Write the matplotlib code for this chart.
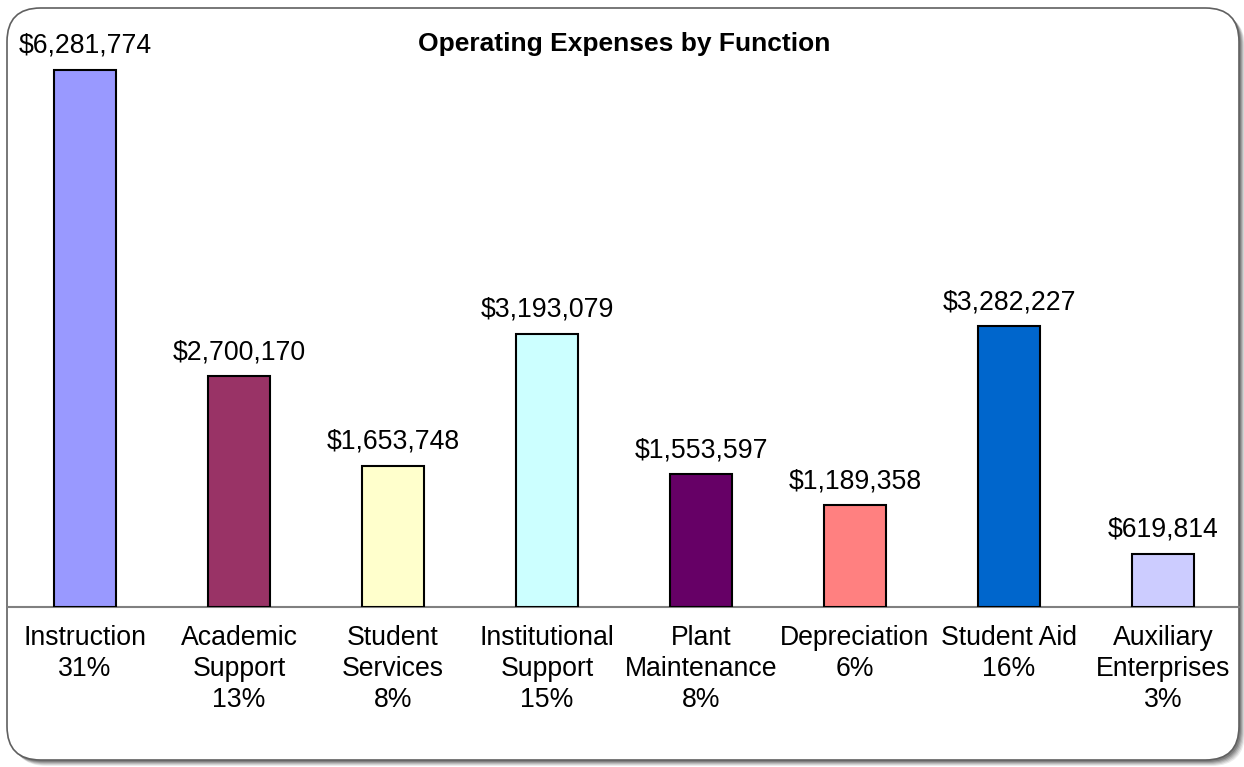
import matplotlib
matplotlib.use("Agg")
import matplotlib.pyplot as plt
from matplotlib.patches import FancyBboxPatch

categories = ["Instruction\n31%", "Academic\nSupport\n13%", "Student\nServices\n8%",
              "Institutional\nSupport\n15%", "Plant\nMaintenance\n8%", "Depreciation\n6%",
              "Student Aid\n16%", "Auxiliary\nEnterprises\n3%"]
values = [6281774, 2700170, 1653748, 3193079, 1553597, 1189358, 3282227, 619814]
colors = ["#9999FF", "#993366", "#FFFFCC", "#CCFFFF", "#660066", "#FF8080", "#0066CC", "#CCCCFF"]
title = "Operating Expenses by Function"

plt.rcParams['font.family'] = ['Liberation Sans', 'DejaVu Sans']

W, H = 1244, 767
fig = plt.figure(figsize=(W / 100, H / 100), dpi=100)

def fx(x): return x / W
def fy(y): return 1 - y / H

# frame with shadow
for i, a in enumerate([0.08, 0.10, 0.12, 0.15, 0.18]):
    off = 6 - i
    sh = FancyBboxPatch((fx(7 + off), fy(760 + off)), fx(1232), 752 / H,
                        boxstyle="round,pad=0,rounding_size=0.027",
                        transform=fig.transFigure, facecolor="black", alpha=a,
                        edgecolor="none", mutation_aspect=W / H, zorder=0)
    fig.patches.append(sh)
frame = FancyBboxPatch((fx(7), fy(760)), fx(1232), 752 / H,
                       boxstyle="round,pad=0,rounding_size=0.027",
                       transform=fig.transFigure, facecolor="white",
                       edgecolor="#606060", linewidth=1.2, mutation_aspect=W / H, zorder=1)
fig.patches.append(frame)

ax = fig.add_axes([fx(8), fy(607), fx(1240) - fx(8), (607 - 30) / H])
ax.set_zorder(3)
ax.set_facecolor("none")
x = list(range(len(values)))
ax.bar(x, values, width=0.405, color=colors, edgecolor="black", linewidth=1.5, zorder=3)
ax.set_xlim(-0.5, len(values) - 0.5)
ax.set_ylim(0, 6281774 * 577 / 537)
for xi, v in zip(x, values):
    ax.annotate(f"${v:,.0f}", (xi, v), xytext=(0, 8), textcoords="offset points",
                ha="center", va="bottom", fontsize=19.2, color="black")
ax.set_xticks(x)
ax.set_xticklabels(categories, fontsize=19.2, linespacing=1.26)
ax.tick_params(axis="x", length=0, pad=13)
ax.set_yticks([])
for s in ["top", "right", "left"]:
    ax.spines[s].set_visible(False)
ax.spines["bottom"].set_color("#808080")
ax.spines["bottom"].set_linewidth(1.5)

fig.text(fx(624), fy(44), title, ha="center", va="center", fontsize=19,
         fontweight="bold", zorder=4)

fig.savefig("out.png", dpi=100)
